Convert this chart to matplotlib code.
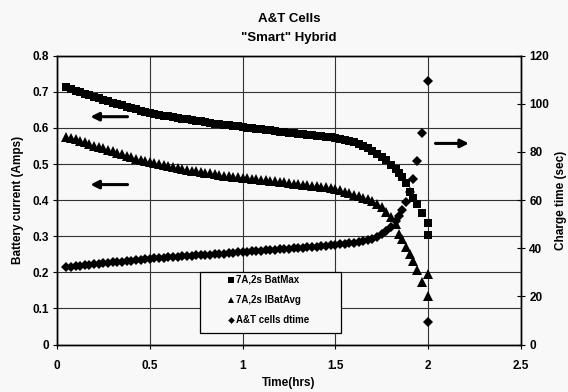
import matplotlib.pyplot as plt
from matplotlib.patches import Rectangle

plt.rcParams['font.family'] = ['Liberation Sans', 'DejaVu Sans']
plt.rcParams['font.weight'] = 'bold'

# czas pomiaru (h)
time = [0.050, 0.075, 0.100, 0.125, 0.150, 0.175, 0.200, 0.225,
        0.250, 0.275, 0.300, 0.325, 0.350, 0.375, 0.400, 0.425,
        0.450, 0.475, 0.500, 0.525, 0.550, 0.575, 0.600, 0.625,
        0.650, 0.675, 0.700, 0.725, 0.750, 0.775, 0.800, 0.825,
        0.850, 0.875, 0.900, 0.925, 0.950, 0.975, 1.000, 1.025,
        1.050, 1.075, 1.100, 1.125, 1.150, 1.175, 1.200, 1.225,
        1.250, 1.275, 1.300, 1.325, 1.350, 1.375, 1.400, 1.425,
        1.450, 1.475, 1.500, 1.525, 1.550, 1.575, 1.600, 1.625,
        1.650, 1.675, 1.700, 1.725, 1.750, 1.775, 1.800, 1.825,
        1.845, 1.860, 1.880, 1.900, 1.920, 1.940, 1.965, 2.000, 2.000]

bat_max = [.713, .708, .703, .698, .694, .690, .686, .682,
           .678, .674, .670, .666, .663, .659, .656, .652,
           .648, .645, .641, .639, .637, .634, .632, .630,
           .628, .626, .624, .622, .620, .618, .616, .614,
           .612, .611, .609, .607, .605, .604, .602, .601,
           .599, .598, .596, .595, .593, .592, .590, .589,
           .587, .586, .584, .583, .581, .580, .578, .577,
           .575, .574, .572, .569, .566, .563, .560, .556,
           .551, .545, .537, .529, .520, .510, .498, .487,
           .476, .464, .448, .422, .405, .390, .364, .336, .304]

bat_avg = [.576, .572, .568, .564, .560, .556, .551, .547,
           .543, .539, .535, .531, .527, .523, .519, .515,
           .512, .508, .505, .502, .499, .497, .494, .492,
           .489, .487, .484, .482, .480, .478, .476, .474,
           .472, .470, .468, .467, .465, .464, .462, .461,
           .459, .458, .456, .455, .453, .452, .450, .449,
           .447, .446, .444, .443, .441, .440, .438, .436,
           .435, .433, .430, .427, .423, .419, .415, .411,
           .407, .403, .398, .390, .380, .368, .352, .334,
           .305, .292, .270, .252, .232, .206, .173, .195, .134]

dtime = [32.2, 32.4, 32.6, 32.8, 33.0, 33.2, 33.4, 33.5,
         33.7, 33.9, 34.1, 34.3, 34.5, 34.7, 34.9, 35.1,
         35.3, 35.5, 35.6, 35.8, 35.9, 36.1, 36.2, 36.3,
         36.5, 36.6, 36.7, 36.9, 37.0, 37.2, 37.3, 37.4,
         37.6, 37.7, 37.8, 38.0, 38.1, 38.3, 38.4, 38.5,
         38.7, 38.8, 39.0, 39.1, 39.2, 39.4, 39.5, 39.7,
         39.8, 40.0, 40.1, 40.3, 40.4, 40.6, 40.7, 40.9,
         41.0, 41.2, 41.4, 41.6, 41.8, 42.0, 42.3, 42.6,
         43.0, 43.4, 44.0, 44.8, 45.8, 47.3, 49.0, 51.2,
         53.6, 56.0, 59.2, 63.5, 68.6, 76.1, 87.8, 109.6, 9.5]

x_ticks = [0, 0.5, 1, 1.5, 2, 2.5]
y_ticks = [0, 0.1, 0.2, 0.3, 0.4, 0.5, 0.6, 0.7, 0.8]
y2_ticks = [0, 20, 40, 60, 80, 100, 120]

bg = '#f8f8f8'
fig = plt.figure(figsize=(5.68, 3.92), dpi=100, facecolor=bg)
ax = fig.add_axes([0.1004, 0.121, 0.8166, 0.737])
ax.set_facecolor(bg)
ax2 = ax.twinx()

h1, = ax.plot(time, bat_max, 's', color='black', ms=6.3, mew=0, label='7A,2s BatMax')
h2, = ax.plot(time, bat_avg, '^', color='black', ms=7.2, mew=0, label='7A,2s IBatAvg')
h3, = ax2.plot(time, dtime, 'D', color='black', ms=5.2, mew=0, label='A&T cells dtime')

ax.set_xlim(0, 2.5)
ax.set_ylim(0, 0.8)
ax2.set_ylim(0, 120)
ax.set_xticks(x_ticks)
ax.set_xticklabels(['0', '0.5', '1', '1.5', '2', '2.5'])
ax.set_yticks(y_ticks)
ax.set_yticklabels(['0', '0.1', '0.2', '0.3', '0.4', '0.5', '0.6', '0.7', '0.8'])
ax2.set_yticks(y2_ticks)

ax.grid(True, color='#333333', linewidth=0.8)
ax.set_axisbelow(True)
for a in (ax, ax2):
    for s in a.spines.values():
        s.set_color('black')
        s.set_linewidth(1.0)

ax.tick_params(axis='both', labelsize=8.5, direction='out', length=3, width=0.8, pad=3)
ax.tick_params(axis='x', pad=8)
ax2.tick_params(axis='y', labelsize=8.5, direction='inout', length=6, width=0.8, pad=3)

ax.set_xlabel('Time(hrs)', fontsize=8.5, fontweight='bold', labelpad=4)
ax.set_ylabel('Battery current (Amps)', fontsize=8.5, fontweight='bold', labelpad=6)
ax2.set_ylabel('Charge time (sec)', fontsize=8.5, fontweight='bold', labelpad=4)

fig.text(0.509, 1 - 19 / 392, 'A&T Cells', ha='center', va='center', fontsize=9.5, fontweight='bold')
fig.text(0.509, 1 - 38 / 392, '"Smart" Hybrid', ha='center', va='center', fontsize=9.5, fontweight='bold')

# strzałki
arrow = dict(arrowstyle='-|>', color='black', lw=2.2, mutation_scale=12)
ax.annotate('', xy=(0.165, 0.631), xytext=(0.395, 0.631), arrowprops=arrow)
ax.annotate('', xy=(0.165, 0.443), xytext=(0.395, 0.443), arrowprops=arrow)
ax.annotate('', xy=(2.235, 0.557), xytext=(2.025, 0.557), arrowprops=arrow)

# ramka legendy
box = Rectangle((200 / 568, 1 - 333 / 392), 141 / 568, 61 / 392, transform=fig.transFigure,
                facecolor=bg, edgecolor='black', linewidth=0.9, zorder=5)
fig.add_artist(box)

leg = ax2.legend(handles=[h1, h2, h3], loc='upper left',
                 bbox_to_anchor=(228 / 568, 1 - 275 / 392), bbox_transform=fig.transFigure,
                 fontsize=7, frameon=False, handlelength=0.6, handletextpad=0.2,
                 borderpad=0, labelspacing=1.05, borderaxespad=0, markerscale=0.65)
leg.set_zorder(6)
fig.add_artist(leg)

fig.savefig('out.png', dpi=100, facecolor=bg)
